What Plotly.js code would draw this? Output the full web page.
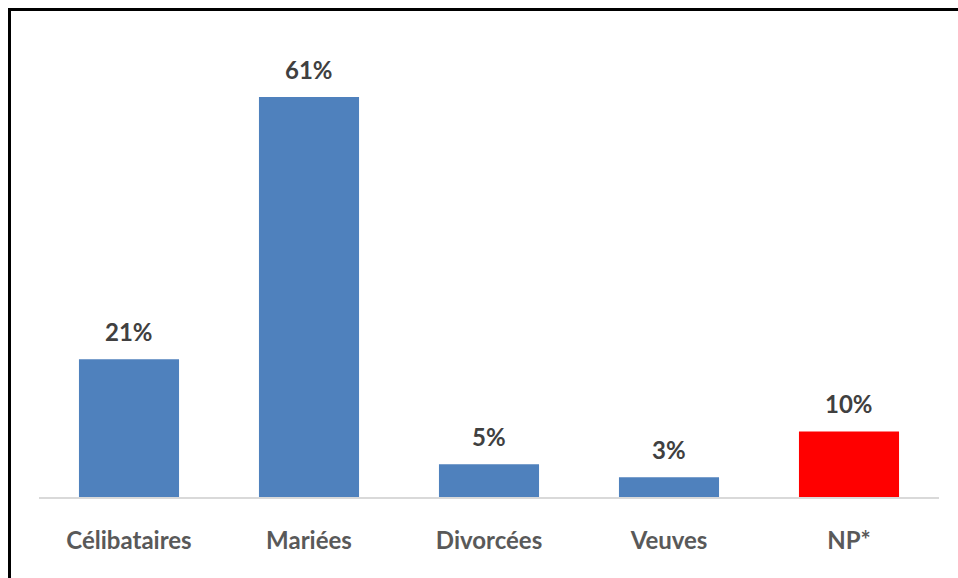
<!DOCTYPE html>
<html>
<head>
<meta charset="utf-8">
<script src="https://cdn.plot.ly/plotly-3.0.1.min.js"></script>
<style>
  html, body { margin: 0; padding: 0; background: #fff; }
  #wrap { position: relative; width: 958px; height: 578px; }
  #chart { width: 958px; height: 578px; }
  #frame { position: absolute; left: 8px; top: 8px; width: 960px; height: 580px;
           border-left: 3px solid #000; border-top: 3px solid #000; pointer-events: none; }
</style>
</head>
<body>
<div id="wrap">
  <div id="chart"></div>
  <div id="frame"></div>
</div>
<script>
const categories = ["Célibataires", "Mariées", "Divorcées", "Veuves", "NP*"];
const values = [21, 61, 5, 3, 10];
const colors = ["#4f81bd", "#4f81bd", "#4f81bd", "#4f81bd", "#ff0000"];
const labels = values.map(v => v + "%");

const FONT = "Lato, 'Liberation Sans', sans-serif";

const trace = {
  type: "bar",
  x: categories,
  y: values,
  marker: { color: colors, line: { width: 0 } },
  hoverinfo: "none"
};

const annotations = categories.map((c, i) => ({
  x: c, y: values[i], xref: "x", yref: "y",
  text: "<b>" + labels[i] + "</b>",
  showarrow: false, yanchor: "bottom", yshift: 11,
  font: { family: FONT, size: 24, color: "#404040" }
}));

const layout = {
  width: 958, height: 578,
  margin: { l: 39, r: 19, t: 38, b: 81 },
  paper_bgcolor: "#ffffff",
  plot_bgcolor: "#ffffff",
  showlegend: false,
  bargap: 0.444,
  xaxis: {
    showline: true, linecolor: "#d9d9d9", linewidth: 1.5,
    ticks: "", ticklabelstandoff: 22,
    tickfont: { family: FONT, size: 24, color: "#595959", weight: "bold" },
    showgrid: false, zeroline: false, fixedrange: true
  },
  yaxis: {
    range: [0, 70], visible: false, showgrid: false, zeroline: false, fixedrange: true
  },
  annotations: annotations
};

Plotly.newPlot("chart", [trace], layout, { displayModeBar: false, staticPlot: true });
</script>
</body>
</html>
